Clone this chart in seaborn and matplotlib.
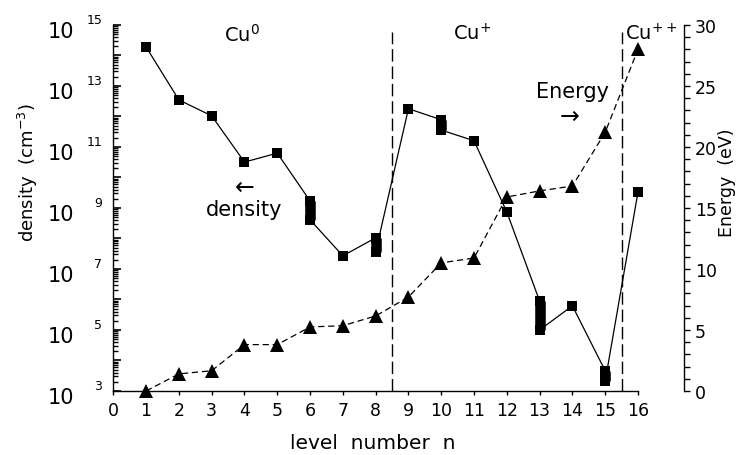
import matplotlib
matplotlib.use("Agg")
import matplotlib.pyplot as plt
import matplotlib.transforms as mtransforms
import numpy as np
import pandas as pd
import seaborn as sns
from matplotlib.ticker import FixedLocator, MultipleLocator, FuncFormatter, NullFormatter

# ---- data -------------------------------------------------------------
level = list(range(1, 17))
# population density per level (cm^-3); low/high give the spread where a range is shown
density_low = [1.9e14, 3.5e12, 1.05e12, 3.2e10, 6.3e10, 4.1e8, 2.7e7, 3.6e7,
               1.8e12, 3.6e11, 1.6e11, 7.4e8, 1.0e5, 6.2e5, 2.1e3, 3.3e9]
density_high = [1.9e14, 3.5e12, 1.05e12, 3.2e10, 6.3e10, 1.7e9, 2.7e7, 1.05e8,
                1.8e12, 7.8e11, 1.6e11, 7.4e8, 8.9e5, 6.2e5, 4.6e3, 3.3e9]
# level energy (eV)
energy_ev = [0.0, 1.4, 1.66, 3.8, 3.8, 5.25, 5.35, 6.15,
             7.7, 10.5, 10.9, 15.9, 16.4, 16.8, 21.2, 28.0]
ion_labels = ["Cu$^{0}$", "Cu$^{+}$", "Cu$^{++}$"]
ion_boundaries = [8.5, 15.5]
x_ticks = list(range(0, 17))
decades = list(range(3, 16))

# ---- style ------------------------------------------------------------
sns.set_style("white")
plt.rcParams.update({
    "font.family": ["DejaVu Sans"],
    "mathtext.default": "regular",
    "axes.linewidth": 1.0,
    "text.color": "black",
    "axes.labelcolor": "black",
    "xtick.color": "black",
    "ytick.color": "black",
    "axes.edgecolor": "black",
})

fig = plt.figure(figsize=(7.42, 4.56), dpi=100)
ax = fig.add_axes([0.1527, 0.1404, 0.7071, 0.8026])
ax2 = ax.twinx()

# density path: go through the top then the bottom of each range
path_x, path_y = [], []
for n, lo, hi in zip(level, density_low, density_high):
    if hi != lo:
        path_x += [n, n]
        path_y += [hi, lo]
    else:
        path_x.append(n)
        path_y.append(lo)
dens_df = pd.DataFrame({"level": path_x, "density": path_y})

sq = 7.6  # square marker size in points
sns.lineplot(data=dens_df, x="level", y="density", ax=ax, sort=False,
             estimator=None, color="black", lw=0.9, marker="s",
             markersize=sq, markeredgewidth=0)
for ln in ax.lines:
    ln.set_clip_on(False)
rng = [(n, lo, hi) for n, lo, hi in zip(level, density_low, density_high) if hi != lo]
ax.vlines([r[0] for r in rng], [r[1] for r in rng], [r[2] for r in rng],
          colors="black", linewidth=sq, capstyle="butt", clip_on=False)

ax.set_yscale("log")
ax.set_xlim(0, 16)
ax.set_ylim(1e3, 1e15)

# ion-stage boundaries
for xb in ion_boundaries:
    ax.axvline(xb, ymin=0, ymax=0.98, color="black", lw=1.0, dashes=(9, 3.5))

# energy curve on the right-hand axis
en_df = pd.DataFrame({"level": level, "energy": energy_ev})
sns.lineplot(data=en_df, x="level", y="energy", ax=ax2, estimator=None,
             color="black", lw=0.9, marker="^", markersize=9.5,
             markeredgewidth=0)
for ln in ax2.lines:
    ln.set_dashes([5, 3])
    ln.set_clip_on(False)
ax2.set_ylim(0, 30)
ax2.set_xlim(0, 16)

# ---- axes cosmetics ---------------------------------------------------
for s in ("top", "right"):
    ax.spines[s].set_visible(False)
for s in ("top", "left", "bottom"):
    ax2.spines[s].set_visible(False)
ax2.spines["right"].set_position(("outward", 33))

ax.xaxis.set_major_locator(FixedLocator(x_ticks))
ax.tick_params(axis="x", direction="out", length=3, width=1, labelsize=12.5,
               pad=4, bottom=True)

major_y = [10.0 ** e for e in decades]
minor_y = [m * 10.0 ** e for e in decades[:-1] for m in range(2, 10)]
ax.yaxis.set_major_locator(FixedLocator(major_y))
ax.yaxis.set_minor_locator(FixedLocator(minor_y))
ax.yaxis.set_minor_formatter(NullFormatter())
ax.yaxis.set_major_formatter(FuncFormatter(
    lambda v, p: "10" if int(round(np.log10(v))) % 2 == 1 else ""))
ax.tick_params(axis="y", which="major", direction="in", length=6, width=1.2,
               labelsize=15, pad=28, left=True)
ax.tick_params(axis="y", which="minor", direction="in", length=3.5, width=1.0,
               left=True)
shift = mtransforms.ScaledTranslation(0, -3 / 72, fig.dpi_scale_trans)
for lab in ax.get_yticklabels():
    lab.set_transform(lab.get_transform() + shift)
for e in decades[::2]:
    ax.annotate(str(e), xy=(0, 10.0 ** e), xycoords=ax.get_yaxis_transform(),
                xytext=(-8, 4), textcoords="offset points", ha="right",
                va="center", fontsize=9)

ax2.yaxis.set_major_locator(MultipleLocator(5))
ax2.yaxis.set_minor_locator(MultipleLocator(1))
ax2.tick_params(axis="y", which="both", direction="out", length=4, width=1,
                labelsize=12.5, pad=4, right=True)

ax.set_xlabel("level  number  n", fontsize=14.5, va="center")
ax.xaxis.set_label_coords(0.495, -0.14)
ax.set_ylabel("density  (cm$^{-3}$)", fontsize=13, va="center")
ax.yaxis.set_label_coords(-0.1635, 0.598)
ax2.set_ylabel("Energy  (eV)", fontsize=12.5, va="center", rotation=90)
ax2.yaxis.set_label_coords(1.1696, 0.571)

# ---- annotations ------------------------------------------------------
tr = ax.get_xaxis_transform()
ax.text(3.92, 0.975, ion_labels[0], transform=tr, ha="center", va="center", fontsize=14)
ax.text(10.94, 0.98, ion_labels[1], transform=tr, ha="center", va="center", fontsize=14)
ax.text(15.6, 0.98, ion_labels[2], transform=tr, ha="left", va="center", fontsize=14)
ax.text(4.0, 0.558, "\u2190", transform=tr, ha="center", va="center", fontsize=17)
ax.text(4.0, 0.497, "density", transform=tr, ha="center", va="center", fontsize=15)
ax.text(13.99, 0.82, "Energy", transform=tr, ha="center", va="center", fontsize=15)
ax.text(13.92, 0.753, "\u2192", transform=tr, ha="center", va="center", fontsize=17)

fig.savefig("out.png", dpi=100)
